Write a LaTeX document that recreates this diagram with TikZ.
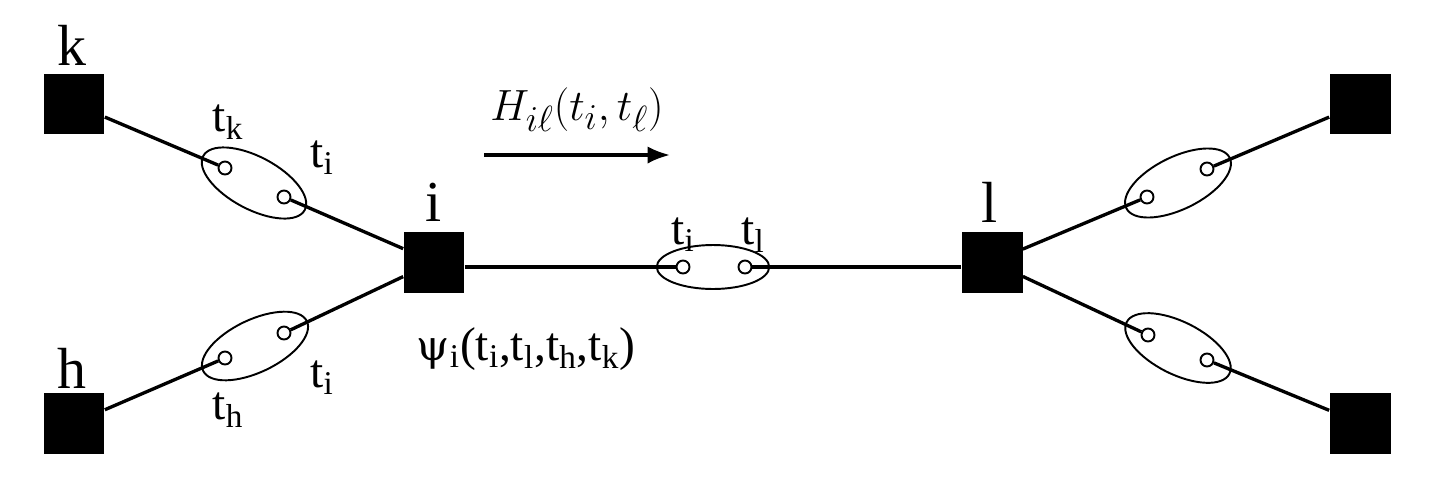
\documentclass[tikz,border=0pt]{standalone}
\usepackage{fontspec}
\setmainfont{Liberation Serif}
\usetikzlibrary{shapes.geometric,arrows.meta}
\tikzset{
  sq/.style={fill=black,draw=none,minimum size=1.22cm,inner sep=0pt},
  port/.style={circle,draw,line width=1.1pt,minimum size=0.26cm,inner sep=0pt,fill=white},
  grp/.style={ellipse,draw,line width=1.1pt,inner sep=0pt},
  edge/.style={line width=1.9pt},
  lab/.style={font=\fontsize{33}{38}\selectfont,inner sep=0pt},
  tlab/.style={font=\fontsize{27}{32}\selectfont,inner sep=0pt}
}
\begin{document}
\begin{tikzpicture}[x=0.02cm,y=-0.02cm]
\useasboundingbox (0,0) rectangle (1444,501);
% squares
\node[sq] (k) at (74,104) {};
\node[sq] (h) at (74,423) {};
\node[sq] (i) at (434,262) {};
\node[sq] (l) at (992,262) {};
\node[sq] (rk) at (1360,104) {};
\node[sq] (rh) at (1360,423) {};
% ellipses
\node[grp,minimum width=2.3cm,minimum height=1.05cm,rotate=-28] (e1) at (254,183) {};
\node[grp,minimum width=2.3cm,minimum height=1.05cm,rotate=25.6] (e2) at (255,346) {};
\node[grp,minimum width=2.25cm,minimum height=0.88cm] (e3) at (713,267) {};
\node[grp,minimum width=2.3cm,minimum height=1.05cm,rotate=26] (e4) at (1178,183) {};
\node[grp,minimum width=2.3cm,minimum height=1.05cm,rotate=-26.6] (e5) at (1178,348) {};
% ports
\node[port] (a1) at (225,168) {};
\node[port] (a2) at (284,197) {};
\node[port] (b1) at (225,358) {};
\node[port] (b2) at (284,333) {};
\node[port] (m1) at (683,267) {};
\node[port] (m2) at (745,267) {};
\node[port] (c1) at (1147,197) {};
\node[port] (c2) at (1207,169) {};
\node[port] (d1) at (1148,335) {};
\node[port] (d2) at (1207,360) {};
% edges
\draw[edge] (k) -- (a1);
\draw[edge] (a2) -- (i);
\draw[edge] (h) -- (b1);
\draw[edge] (b2) -- (i);
\draw[edge] (i.east |- m1) -- (m1);
\draw[edge] (m2) -- (l.west |- m2);
\draw[edge] (l) -- (c1);
\draw[edge] (c2) -- (rk);
\draw[edge] (l) -- (d1);
\draw[edge] (d2) -- (rh);
% labels
\node[lab] (lk) at (72,45) {k};
\node[lab] (lh) at (72,368) {h};
\node[lab] (li) at (434,202) {i};
\node[lab] (ll) at (990,202) {l};
\node[tlab] (tk) at (228,122) {t\textsubscript{k}};
\node[tlab] (ti1) at (322,158) {t\textsubscript{i}};
\node[tlab] (ti2) at (322,378) {t\textsubscript{i}};
\node[tlab] (th) at (228,410) {t\textsubscript{h}};
\node[tlab] (ti3) at (683,235) {t\textsubscript{i}};
\node[tlab] (tl) at (753,235) {t\textsubscript{l}};
\node[tlab] (psi) at (526,349) {{\fontspec{DejaVu Serif}\fontsize{24}{28}\selectfont ψ}\textsubscript{i}(t\textsubscript{i},t\textsubscript{l},t\textsubscript{h},t\textsubscript{k})};
\node[inner sep=0pt,font=\fontsize{32}{38}\selectfont] (H) at (577,110) {$H_{i\ell}(t_i,t_\ell)$};
\coordinate (as) at (484,155);
\coordinate (ae) at (670,155);
\draw[edge,-{Latex[length=0.45cm,width=0.35cm]}] (as) -- (ae);
\end{tikzpicture}
\end{document}
